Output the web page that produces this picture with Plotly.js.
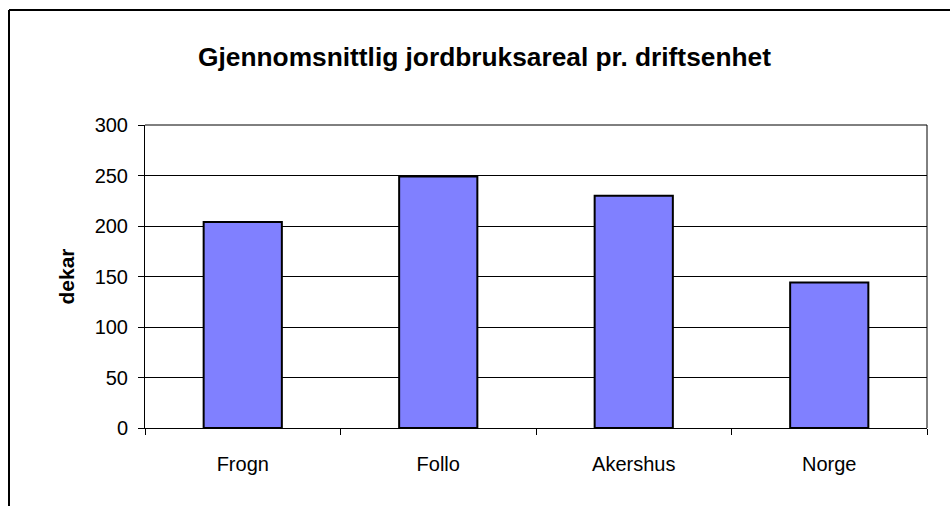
<!DOCTYPE html>
<html>
<head>
<meta charset="utf-8">
<script src="https://cdn.plot.ly/plotly-3.0.1.min.js"></script>
<style>html,body{margin:0;padding:0;background:#fff;}#chart{width:950px;height:506px;}</style>
</head>
<body>
<div id="chart"></div>
<script>
const categories = ["Frogn", "Follo", "Akershus", "Norge"];
const values = [204, 249, 230, 144];
const yTickValues = [0, 50, 100, 150, 200, 250, 300];

const W = 950, H = 506;
const m = {l: 145, r: 23, t: 125, b: 78};
const pw = W - m.l - m.r, ph = H - m.t - m.b;
const px = x => (x - m.l) / pw;
const py = y => (H - m.b - y) / ph;

const trace = {
  type: 'bar',
  x: categories,
  y: values,
  width: 0.4,
  marker: {color: '#8080FF', line: {color: '#000', width: 2}},
  hoverinfo: 'x+y'
};

const layout = {
  width: W, height: H,
  margin: m,
  paper_bgcolor: '#fff', plot_bgcolor: '#fff',
  showlegend: false,
  font: {family: 'Liberation Sans, Arial, sans-serif', color: '#000', size: 20},
  title: {
    text: '<b>Gjennomsnittlig jordbruksareal pr. driftsenhet</b>',
    font: {size: 26.3, family: 'Liberation Sans, Arial, sans-serif', color: '#000'},
    x: 0.51, xanchor: 'center', y: 1 - 57 / H, yanchor: 'middle', xref: 'container', yref: 'container'
  },
  xaxis: {
    type: 'category',
    tickson: 'boundaries',
    ticks: 'outside', ticklen: 6, tickcolor: '#000', tickwidth: 1,
    showline: true, linecolor: '#000', linewidth: 1,
    showgrid: false, zeroline: false,
    tickfont: {size: 20},
    ticklabelstandoff: 18,
    range: [-0.5, 3.5]
  },
  yaxis: {
    range: [0, 300],
    tickvals: yTickValues,
    ticks: 'outside', ticklen: 6, tickcolor: '#000', tickwidth: 1,
    showline: true, linecolor: '#000', linewidth: 1,
    showgrid: true, gridcolor: '#000', gridwidth: 1,
    zeroline: false,
    tickfont: {size: 20},
    ticklabelstandoff: 6,
    title: {text: '<b>dekar</b>', font: {size: 21}, standoff: 14}
  },
  shapes: [
    {type: 'line', xref: 'paper', yref: 'paper', x0: 1, x1: 1, y0: 0, y1: 1, line: {color: '#000', width: 1}},
    {type: 'line', xref: 'paper', yref: 'paper', x0: 0, x1: 1, y0: 1, y1: 1, line: {color: '#000', width: 1}},
    {type: 'line', xref: 'paper', yref: 'paper', x0: px(9), x1: px(951), y0: py(10), y1: py(10), line: {color: '#000', width: 2}},
    {type: 'line', xref: 'paper', yref: 'paper', x0: px(9), x1: px(9), y0: py(10), y1: py(507), line: {color: '#000', width: 2}}
  ]
};

Plotly.newPlot('chart', [trace], layout, {displayModeBar: false, staticPlot: true});
</script>
</body>
</html>
